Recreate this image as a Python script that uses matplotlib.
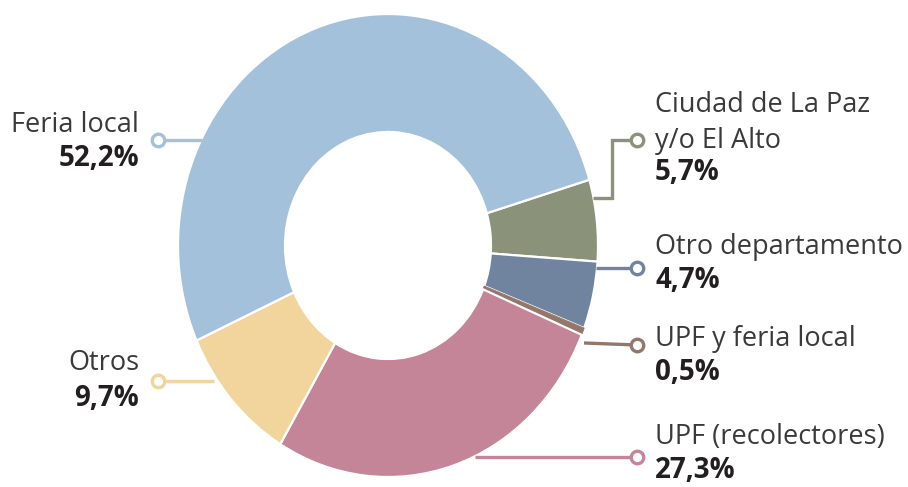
import numpy as np
import matplotlib.pyplot as plt

# data (clockwise from the right side)
labels = ["Ciudad de La Paz\ny/o El Alto", "Otro departamento", "UPF y feria local",
          "UPF (recolectores)", "Otros", "Feria local"]
values = [5.7, 4.7, 0.5, 27.3, 9.7, 52.2]
pct_text = ["5,7%", "4,7%", "0,5%", "27,3%", "9,7%", "52,2%"]
colors = ["#8a927a", "#71849f", "#94776a", "#c48598", "#f1d59c", "#a3c1da"]

W, H = 908, 487
SY = 210 / 231.5          # vertical squeeze so the donut comes out slightly tall


def px(x, y):
    # pixel position (top-left origin) -> data coords
    return x, (H - y) * SY


fig = plt.figure(figsize=(W / 100, H / 100), dpi=100)
ax = fig.add_axes([0, 0, 1, 1])

cx, cy = px(388, 245.5)
wedges, _ = ax.pie(values, colors=colors, startangle=16.5, counterclock=False,
                   radius=210, center=(cx, cy),
                   wedgeprops=dict(width=107, edgecolor="white", linewidth=1.6))
wedges[2].set_edgecolor(colors[2])
wedges[2].set_linewidth(0.6)

ax.set_xlim(0, W)
ax.set_ylim(0, H * SY)
ax.set_aspect("auto")
ax.axis("off")

# leader lines (pixel paths), one per category, ending in a hollow circle
leaders = [
    [(593, 198), (612, 198), (612, 140), (637, 140)],
    [(596, 268), (637, 268)],
    [(584, 343), (637, 345)],
    [(475, 457), (637, 457)],
    [(214, 381), (158, 381)],
    [(202, 140), (158, 140)],
]
for pts, c in zip(leaders, colors):
    xs, ys = zip(*[px(*p) for p in pts])
    ax.plot(xs, ys, color=c, lw=2.4, solid_capstyle="butt", solid_joinstyle="miter", zorder=3)
    ax.plot(xs[-1], ys[-1], "o", ms=9, mfc="white", mec=c, mew=2.4, zorder=4)

font = "Open Sans"
txt_col = "#3a3a3a"
bold_col = "#231f20"

# label blocks: (x, y centre of name block, y of percent, align)
spots = [
    (655, 123, 172, "left"),
    (655, 247, 281, "left"),
    (655, 339, 373, "left"),
    (655, 437, 470, "left"),
    (139, 363, 398, "right"),
    (139, 125, 158, "right"),
]
for (x, yn, yp, ha), name, pt in zip(spots, labels, pct_text):
    tx, ty = px(x, yn)
    ax.text(tx, ty, name, ha=ha, va="center", fontsize=19.5, family=font,
            color=txt_col, linespacing=1.38)
    tx, ty = px(x, yp)
    ax.text(tx, ty, pt, ha=ha, va="center", fontsize=20, family=font,
            fontweight="bold", color=bold_col)

fig.savefig("out.png", dpi=100)
